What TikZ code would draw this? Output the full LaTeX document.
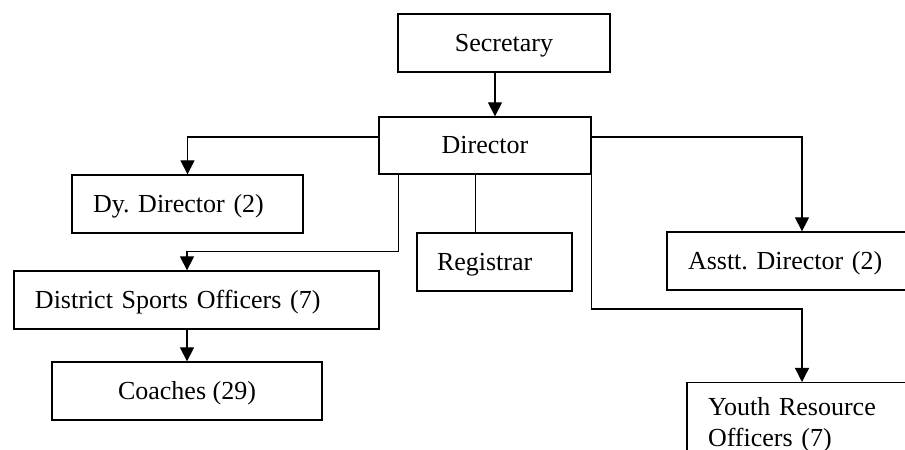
\documentclass[tikz,border=0pt]{standalone}
\usepackage{fontspec}
\setmainfont{Liberation Serif}
\usetikzlibrary{arrows.meta}
\tikzset{
  txt/.style={font=\fontsize{26bp}{31bp}\selectfont\frenchspacing},
  box/.style={draw, line width=1.3bp, inner sep=0pt, minimum height=58bp,
    text height=23bp, text depth=6bp, txt},
  lbox/.style={box, align=left, inner xsep=21bp, text width=#1},
  conn/.style={line width=1.3bp},
  arr/.style={conn, -{Triangle[width=14bp,length=14bp]}},
}
\begin{document}
\begin{tikzpicture}[x=1bp,y=-1bp]
\useasboundingbox (0,0) rectangle (905,450);
\clip (0,0) rectangle (905,450);
\node[box, minimum width=212bp] (sec) at (504,43) {Secretary};
\node[box, minimum width=212bp, minimum height=57bp] (dir) at (485,145.5) {Director};
\node[lbox=189bp] (dy) at (187.5,204) {Dy. Director (2)};
\node[lbox=323bp] (dso) at (196.5,300) {District Sports Officers (7)};
\node[box, minimum width=270bp] (coach) at (187,391) {Coaches (29)};
\node[lbox=115bp, inner xsep=20bp] (reg) at (494.5,262) {Registrar};
\node[lbox=228bp] (asst) at (802,261) {Asstt. Director (2)};
\node[draw, line width=1.3bp, anchor=north, align=left, text width=188bp,
  inner xsep=21bp, inner ysep=15bp, txt]
  (youth) at (802,382) {Youth Resource\\Officers (7)};
% connectors
\draw[arr] ([xshift=-9bp]sec.south) -- ([xshift=-9bp]sec.south |- dir.north);
\draw[arr] ([yshift=8.5bp]dir.west) -| (dy.north);
\draw[arr] ([yshift=8.5bp]dir.east) -| (asst.north);
\draw[arr] ([xshift=20bp]dir.south west) |- ([yshift=19bp]dso.north -| coach.north) -- (dso.north -| coach.north);
\draw[arr] (dso.south -| coach.north) -- (coach.north);
\draw[conn] ([xshift=59bp]reg.north west) -- ([xshift=59bp]reg.north west |- dir.south);
\draw[arr] (dir.south east) |- ([yshift=73bp]youth.north) -- (youth.north);
\end{tikzpicture}
\end{document}
